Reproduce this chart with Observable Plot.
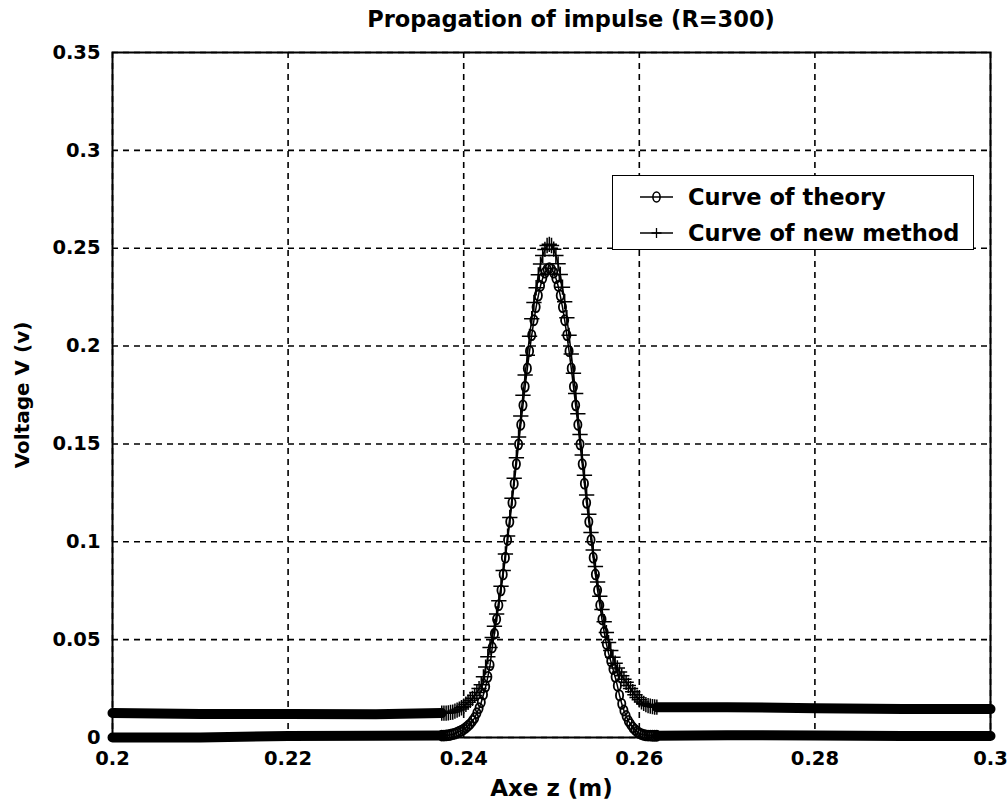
<!DOCTYPE html>
<html>
<head>
<meta charset="utf-8">
<script src="https://cdn.jsdelivr.net/npm/d3@7"></script>
<script src="https://cdn.jsdelivr.net/npm/@observablehq/plot@0.6"></script>
<style>
  html, body { margin: 0; padding: 0; background: #fff; }
  #wrap { position: relative; width: 1008px; height: 807px; overflow: hidden; background: #fff;
          font-family: "DejaVu Sans", sans-serif; font-weight: bold; color: #000; }
  #title { position: absolute; left: 0; top: 6px; width: 1008px; text-align: center; padding-left: 134px;
           box-sizing: border-box; font-size: 22.5px; line-height: 26px; white-space: nowrap; }
  #chart { position: absolute; left: 0; top: 38px; }
  #legend { position: absolute; left: 612px; top: 175px; width: 362px; height: 75px; box-sizing: border-box;
            border: 1.5px solid #000; background: #fff; }
  #legend svg { position: absolute; left: 0; top: 0; }
</style>
</head>
<body>
<div id="wrap">
  <div id="title">Propagation of impulse (R=300)</div>
  <div id="chart"></div>
  <div id="legend"></div>
</div>
<script>
// ---- Tick values and labels ----
const xTicks = [0.2, 0.22, 0.24, 0.26, 0.28, 0.3];
const xTickLabels = ["0.2", "0.22", "0.24", "0.26", "0.28", "0.3"];
const yTicks = [0, 0.05, 0.1, 0.15, 0.2, 0.25, 0.3, 0.35];
const yTickLabels = ["0", "0.05", "0.1", "0.15", "0.2", "0.25", "0.3", "0.35"];

// ---- Series names ----
const seriesNames = ["Curve of theory", "Curve of new method"];

const zPulse = [
  0.2375, 0.23775, 0.238, 0.23825, 0.2385, 0.23875, 0.239, 0.23925, 0.2395, 0.23975,
  0.24, 0.24025, 0.2405, 0.24075, 0.241, 0.24125, 0.2415, 0.24175, 0.242, 0.24225,
  0.2425, 0.24275, 0.243, 0.24325, 0.2435, 0.24375, 0.244, 0.24425, 0.2445, 0.24475,
  0.245, 0.24525, 0.2455, 0.24575, 0.246, 0.24625, 0.2465, 0.24675, 0.247, 0.24725,
  0.2475, 0.24775, 0.248, 0.24825, 0.2485, 0.24875, 0.249, 0.24925, 0.2495,
  0.24975,
  0.25, 0.25025, 0.2505, 0.25075, 0.251, 0.25125, 0.2515, 0.25175, 0.252,
  0.25225, 0.2525, 0.25275, 0.253, 0.25325, 0.2535, 0.25375, 0.254, 0.25425, 0.2545,
  0.25475, 0.255, 0.25525, 0.2555, 0.25575, 0.256, 0.25625, 0.2565, 0.25675, 0.257,
  0.25725, 0.2575, 0.25775, 0.258, 0.25825, 0.2585, 0.25875, 0.259, 0.25925, 0.2595,
  0.25975, 0.26, 0.26025, 0.2605, 0.26075, 0.261, 0.26125, 0.2615, 0.26175, 0.262
];
// Curve of theory (V)
const theoryPulse = [
  0.0010, 0.0010, 0.0011, 0.0012, 0.0014, 0.0017, 0.0020, 0.0025, 0.0030, 0.0035,
  0.0042, 0.0050, 0.0060, 0.0070, 0.0085, 0.0100, 0.0125, 0.0150, 0.0180, 0.0220,
  0.0260, 0.0310, 0.0370, 0.0460, 0.0530, 0.0604, 0.0676, 0.0752, 0.0833, 0.0919,
  0.1009, 0.1102, 0.1199, 0.1297, 0.1397, 0.1498, 0.1598, 0.1697, 0.1793, 0.1886,
  0.1974, 0.2056, 0.2132, 0.2199, 0.2258, 0.2308, 0.2347, 0.2375, 0.2392,
  0.2398,
  0.2392, 0.2375, 0.2347, 0.2308, 0.2258, 0.2199, 0.2132, 0.2056, 0.1974,
  0.1886, 0.1793, 0.1697, 0.1598, 0.1498, 0.1397, 0.1297, 0.1199, 0.1102, 0.1009,
  0.0919, 0.0833, 0.0752, 0.0676, 0.0604, 0.0538, 0.0478, 0.0430, 0.0390, 0.0350,
  0.0310, 0.0265, 0.0215, 0.0172, 0.0138, 0.0110, 0.0085, 0.0068, 0.0052, 0.0040,
  0.0030, 0.0022, 0.0017, 0.0013, 0.0011, 0.0010, 0.0010, 0.0009, 0.0009, 0.0009
];
// Curve of new method (V)
const newPulse = [
  0.0125, 0.0125, 0.0125, 0.0126, 0.0128, 0.0130, 0.0135, 0.0140, 0.0145, 0.0152,
  0.0160, 0.0170, 0.0180, 0.0190, 0.0200, 0.0215, 0.0230, 0.0250, 0.0270, 0.0310,
  0.0360, 0.0413, 0.0460, 0.0511, 0.0568, 0.0631, 0.0699, 0.0773, 0.0853, 0.0938,
  0.1029, 0.1124, 0.1223, 0.1325, 0.1430, 0.1536, 0.1643, 0.1749, 0.1852, 0.1953,
  0.2050, 0.2140, 0.2223, 0.2298, 0.2364, 0.2419, 0.2463, 0.2494, 0.2514,
  0.2520,
  0.2514, 0.2495, 0.2463, 0.2420, 0.2366, 0.2301, 0.2227, 0.2145, 0.2055,
  0.1960, 0.1861, 0.1758, 0.1654, 0.1548, 0.1443, 0.1340, 0.1239, 0.1141, 0.1047,
  0.0958, 0.0874, 0.0795, 0.0722, 0.0654, 0.0592, 0.0536, 0.0485, 0.0445, 0.0410,
  0.0380, 0.0355, 0.0335, 0.0315, 0.0298, 0.0282, 0.0266, 0.0250, 0.0234, 0.0219,
  0.0205, 0.0193, 0.0182, 0.0174, 0.0168, 0.0163, 0.0160, 0.0158, 0.0156, 0.0155
];

// ---- Flat parts (densely sampled in the original, forming thick bands) ----
const zFlatLeft = [0.2, 0.21, 0.22, 0.23, 0.2375];
const theoryFlatLeft = [0.0000, 0.0000, 0.0008, 0.0009, 0.0010];
const newFlatLeft = [0.0125, 0.0120, 0.0120, 0.0119, 0.0125];
const zFlatRight = [0.262, 0.27, 0.28, 0.29, 0.3];
const theoryFlatRight = [0.0009, 0.0012, 0.0010, 0.0008, 0.0008];
const newFlatRight = [0.0155, 0.0155, 0.0150, 0.0145, 0.0145];

// ---- Build tables ----
const theoryRows = zPulse.map((z, i) => ({z, v: theoryPulse[i]}));
const newRows = zPulse.map((z, i) => ({z, v: newPulse[i]}));
const theoryFlat = [
  ...zFlatLeft.map((z, i) => ({z, v: theoryFlatLeft[i], seg: "L"})),
  ...zFlatRight.map((z, i) => ({z, v: theoryFlatRight[i], seg: "R"}))
];
const newFlat = [
  ...zFlatLeft.map((z, i) => ({z, v: newFlatLeft[i], seg: "L"})),
  ...zFlatRight.map((z, i) => ({z, v: newFlatRight[i], seg: "R"}))
];

// Tall oval marker like the MATLAB "o" in the picture
const ovalSymbol = {
  draw(ctx, size) {
    const rx = 3.6, ry = 5, k = 0.5523;
    ctx.moveTo(rx, 0);
    ctx.bezierCurveTo(rx, ry * k, rx * k, ry, 0, ry);
    ctx.bezierCurveTo(-rx * k, ry, -rx, ry * k, -rx, 0);
    ctx.bezierCurveTo(-rx, -ry * k, -rx * k, -ry, 0, -ry);
    ctx.bezierCurveTo(rx * k, -ry, rx, -ry * k, rx, 0);
    ctx.closePath();
  }
};

const gridStyle = {stroke: "black", strokeOpacity: 1, strokeWidth: 1.6, strokeDasharray: "6,5"};

const chart = Plot.plot({
  width: 1008,
  height: 769,
  marginLeft: 112,
  marginRight: 18,
  marginTop: 14,
  marginBottom: 70,
  style: {fontFamily: '"DejaVu Sans", sans-serif', fontSize: "19.5px", fontWeight: "bold",
          color: "black", background: "white", overflow: "visible"},
  x: {domain: [0.2, 0.3]},
  y: {domain: [0, 0.35]},
  marks: [
    Plot.gridX(xTicks, gridStyle),
    Plot.gridY(yTicks, gridStyle),
    Plot.line(theoryFlat, {x: "z", y: "v", z: "seg", stroke: "black", strokeWidth: 10}),
    Plot.line(newFlat, {x: "z", y: "v", z: "seg", stroke: "black", strokeWidth: 10}),
    Plot.line(theoryRows, {x: "z", y: "v", stroke: "black", strokeWidth: 1.5}),
    Plot.line(newRows, {x: "z", y: "v", stroke: "black", strokeWidth: 1.5}),
    Plot.dot(theoryRows, {x: "z", y: "v", symbol: ovalSymbol, r: 4, stroke: "black", strokeWidth: 1.8, fill: "none"}),
    Plot.dot(newRows, {x: "z", y: "v", symbol: "plus", r: 5, stroke: "black", strokeWidth: 1.5}),
    Plot.frame({stroke: "black", strokeWidth: 2}),
    Plot.axisX(xTicks, {
      tickSize: 0, tickPadding: 14,
      tickFormat: d => xTickLabels[xTicks.indexOf(d)],
      label: null
    }),
    Plot.axisY(yTicks, {
      tickSize: 0, tickPadding: 12,
      tickFormat: d => yTickLabels[yTicks.indexOf(d)],
      label: null
    }),
    Plot.text(["Axe z (m)"], {frameAnchor: "bottom", dy: 58, fontSize: 23, fontWeight: "bold"}),
    Plot.text(["Voltage V (v)"], {frameAnchor: "left", dx: -90, rotate: -90, textAnchor: "middle", fontSize: 20, fontWeight: "bold"})
  ]
});
document.getElementById("chart").appendChild(chart);

// ---- Legend ----
const lg = d3.select("#legend").append("svg").attr("width", 360).attr("height", 72);
const rows = [{y: 21, sym: "oval"}, {y: 57, sym: "plus"}];
rows.forEach((r, i) => {
  lg.append("line").attr("x1", 27).attr("x2", 60).attr("y1", r.y).attr("y2", r.y)
    .attr("stroke", "black").attr("stroke-width", 1.4);
  if (r.sym === "oval") {
    lg.append("ellipse").attr("cx", 43.5).attr("cy", r.y).attr("rx", 3.6).attr("ry", 5)
      .attr("fill", "none").attr("stroke", "black").attr("stroke-width", 1.6);
  } else {
    lg.append("path").attr("d", `M38.5,${r.y}H48.5M43.5,${r.y - 5}V${r.y + 5}`)
      .attr("stroke", "black").attr("stroke-width", 1.3);
  }
  lg.append("text").attr("x", 75).attr("y", r.y).attr("dy", "0.36em")
    .attr("font-family", '"DejaVu Sans", sans-serif').attr("font-weight", "bold")
    .attr("font-size", 22.5).text(seriesNames[i]);
});
</script>
</body>
</html>
